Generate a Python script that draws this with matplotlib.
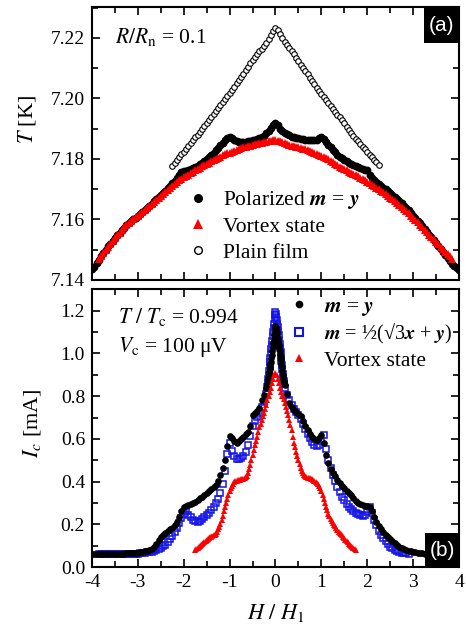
import numpy as np
import matplotlib
matplotlib.use('Agg')
import matplotlib.pyplot as plt
from matplotlib.lines import Line2D
from matplotlib.patches import Rectangle

plt.rcParams['font.family'] = 'Liberation Serif'
plt.rcParams['mathtext.fontset'] = 'stix'
plt.rcParams['axes.unicode_minus'] = False

# ---------------- panel (a): T(H) at R/Rn = 0.1 ----------------
# polarized m = y, H from -4 to 4 step 0.05
T_pol = [
    7.1435, 7.1444, 7.1456, 7.1466, 7.1478, 7.1490, 7.1500, 7.1511, 7.1520, 7.1530,
    7.1538, 7.1547, 7.1555, 7.1565, 7.1572, 7.1581, 7.1588, 7.1594, 7.1600, 7.1606,
    7.1611, 7.1618, 7.1624, 7.1631, 7.1637, 7.1645, 7.1652, 7.1661, 7.1668, 7.1674,
    7.1681, 7.1688, 7.1695, 7.1704, 7.1712, 7.1719, 7.1728, 7.1738, 7.1748, 7.1758,
    7.1760, 7.1761, 7.1763, 7.1766, 7.1770, 7.1773, 7.1778, 7.1783, 7.1788, 7.1794,
    7.1800, 7.1806, 7.1812, 7.1820, 7.1828, 7.1836, 7.1845, 7.1854, 7.1862, 7.1869,
    7.1874, 7.1870, 7.1863, 7.1858, 7.1856, 7.1856, 7.1857, 7.1856, 7.1859, 7.1860,
    7.1862, 7.1864, 7.1866, 7.1868, 7.1872, 7.1877, 7.1885, 7.1893, 7.1902, 7.1912,
    7.1920,
    7.1912, 7.1900, 7.1892, 7.1886, 7.1882, 7.1879, 7.1874, 7.1871, 7.1869, 7.1868,
    7.1866, 7.1866, 7.1864, 7.1862, 7.1862, 7.1861, 7.1862, 7.1864, 7.1869, 7.1874,
    7.1866, 7.1856, 7.1846, 7.1838, 7.1830, 7.1822, 7.1814, 7.1808, 7.1802, 7.1797,
    7.1792, 7.1787, 7.1783, 7.1779, 7.1775, 7.1772, 7.1769, 7.1767, 7.1765, 7.1762,
    7.1748, 7.1738, 7.1730, 7.1723, 7.1716, 7.1710, 7.1704, 7.1699, 7.1694, 7.1687,
    7.1680, 7.1674, 7.1667, 7.1660, 7.1653, 7.1646, 7.1638, 7.1630, 7.1622, 7.1613,
    7.1605, 7.1596, 7.1587, 7.1578, 7.1569, 7.1560, 7.1550, 7.1541, 7.1531, 7.1521,
    7.1511, 7.1501, 7.1492, 7.1482, 7.1472, 7.1463, 7.1454, 7.1446, 7.1439, 7.1432,
]
# vortex state, H from -3.85 to 3.85 step 0.05
T_vort = [
    7.1470, 7.1479, 7.1489, 7.1500, 7.1510, 7.1520, 7.1529, 7.1538, 7.1547, 7.1556,
    7.1565, 7.1574, 7.1582, 7.1589, 7.1595, 7.1601, 7.1607, 7.1612, 7.1619, 7.1625,
    7.1632, 7.1638, 7.1645, 7.1652, 7.1659, 7.1665, 7.1671, 7.1677, 7.1683, 7.1690,
    7.1697, 7.1703, 7.1709, 7.1716, 7.1723, 7.1730, 7.1735, 7.1740, 7.1744, 7.1748,
    7.1753, 7.1757, 7.1762, 7.1766, 7.1771, 7.1776, 7.1780, 7.1784, 7.1788, 7.1792,
    7.1796, 7.1800, 7.1804, 7.1808, 7.1812, 7.1815, 7.1818, 7.1821, 7.1824, 7.1827,
    7.1830, 7.1833, 7.1836, 7.1838, 7.1840, 7.1842, 7.1844, 7.1846, 7.1848, 7.1850,
    7.1852, 7.1853, 7.1855, 7.1857, 7.1858, 7.1860, 7.1861,
    7.1862,
    7.1860, 7.1858, 7.1855, 7.1852, 7.1849, 7.1846, 7.1844, 7.1842, 7.1840, 7.1838,
    7.1836, 7.1834, 7.1832, 7.1829, 7.1826, 7.1823, 7.1820, 7.1817, 7.1814, 7.1811,
    7.1807, 7.1803, 7.1799, 7.1794, 7.1789, 7.1784, 7.1779, 7.1774, 7.1770, 7.1766,
    7.1762, 7.1758, 7.1754, 7.1750, 7.1746, 7.1742, 7.1738, 7.1734, 7.1730, 7.1725,
    7.1720, 7.1715, 7.1710, 7.1705, 7.1700, 7.1695, 7.1690, 7.1684, 7.1678, 7.1672,
    7.1667, 7.1661, 7.1655, 7.1649, 7.1642, 7.1635, 7.1628, 7.1620, 7.1613, 7.1606,
    7.1598, 7.1590, 7.1582, 7.1574, 7.1566, 7.1558, 7.1550, 7.1542, 7.1534, 7.1526,
    7.1518, 7.1510, 7.1502, 7.1494, 7.1486, 7.1478, 7.1470,
]
# plain film, H from -2.25 to 2.25 step 0.05
T_plain = [
    7.1778, 7.1788, 7.1796, 7.1806, 7.1815, 7.1824, 7.1834, 7.1842, 7.1853, 7.1862,
    7.1871, 7.1880, 7.1889, 7.1898, 7.1908, 7.1918, 7.1928, 7.1938, 7.1948, 7.1958,
    7.1968, 7.1978, 7.1988, 7.1997, 7.2008, 7.2018, 7.2028, 7.2038, 7.2050, 7.2060,
    7.2072, 7.2082, 7.2094, 7.2104, 7.2116, 7.2126, 7.2136, 7.2146, 7.2156, 7.2164,
    7.2174, 7.2184, 7.2196, 7.2210, 7.2224,
    7.2234,
    7.2226, 7.2214, 7.2200, 7.2188, 7.2176, 7.2166, 7.2156, 7.2146, 7.2135, 7.2124,
    7.2112, 7.2101, 7.2090, 7.2079, 7.2068, 7.2058, 7.2047, 7.2036, 7.2025, 7.2015,
    7.2005, 7.1995, 7.1985, 7.1976, 7.1966, 7.1956, 7.1946, 7.1937, 7.1927, 7.1918,
    7.1907, 7.1897, 7.1886, 7.1877, 7.1867, 7.1858, 7.1849, 7.1840, 7.1832, 7.1823,
    7.1814, 7.1806, 7.1797, 7.1789, 7.1781,
]

# ---------------- panel (b): Ic(H) ----------------
# m = y : three pieces (-4..-0.25 step .05, -0.2..0.2 step .01, 0.25..4 step .05)
Ic_my_left = [
    0.062, 0.062, 0.061, 0.062, 0.062, 0.061, 0.062, 0.062, 0.062, 0.062,
    0.063, 0.062, 0.063, 0.063, 0.063, 0.064, 0.064, 0.064, 0.065, 0.066,
    0.067, 0.069, 0.071, 0.073, 0.076, 0.080, 0.085, 0.095, 0.108, 0.125,
    0.142, 0.152, 0.160, 0.168, 0.176, 0.185, 0.196, 0.212, 0.235, 0.262,
    0.282, 0.286, 0.290, 0.294, 0.299, 0.306, 0.314, 0.322, 0.330, 0.338,
    0.346, 0.355, 0.365, 0.375, 0.386, 0.405, 0.430, 0.462, 0.500, 0.565,
    0.615, 0.602, 0.588, 0.580, 0.588, 0.598, 0.610, 0.622, 0.632, 0.660,
    0.712, 0.722, 0.730, 0.745, 0.780, 0.805,
]
Ic_my_mid = [
    0.840, 0.848, 0.858, 0.870, 0.884, 0.900, 0.912, 0.925, 0.938, 0.950,
    0.962, 0.978, 0.995, 1.012, 1.030, 1.048, 1.065, 1.085, 1.105, 1.120,
    1.130,
    1.125, 1.115, 1.100, 1.085, 1.070, 1.055, 1.040, 1.025, 1.010, 0.995,
    0.982, 0.968, 0.952, 0.935, 0.918, 0.900, 0.885, 0.872, 0.862, 0.852,
]
Ic_my_right = [
    0.810, 0.770, 0.748, 0.736, 0.726, 0.716, 0.706, 0.685, 0.660, 0.640,
    0.625, 0.610, 0.600, 0.596, 0.602, 0.618, 0.580, 0.525, 0.485, 0.458,
    0.440, 0.425, 0.408, 0.394, 0.380, 0.368, 0.357, 0.347, 0.336, 0.323,
    0.310, 0.300, 0.295, 0.290, 0.287, 0.285, 0.280, 0.262, 0.235, 0.210,
    0.194, 0.180, 0.165, 0.150, 0.140, 0.130, 0.120, 0.111, 0.103, 0.096,
    0.090, 0.085, 0.080, 0.076, 0.073, 0.070, 0.068, 0.066, 0.065, 0.064,
    0.063, 0.063, 0.062, 0.062, 0.062, 0.062, 0.062, 0.061, 0.062, 0.062,
    0.062, 0.061, 0.062, 0.062, 0.062, 0.062,
]
# m = 1/2(sqrt3 x + y) : (-3.85..-0.25 step .05, -0.2..0.2 step .01, 0.25..2.9 step .05)
Ic_m3_left = [
    0.062, 0.062, 0.061, 0.062, 0.062, 0.062, 0.062, 0.062, 0.062, 0.062,
    0.062, 0.062, 0.062, 0.062, 0.062, 0.063, 0.063, 0.063, 0.064, 0.064,
    0.066, 0.068, 0.070, 0.072, 0.075, 0.078, 0.084, 0.090, 0.097, 0.105,
    0.116, 0.130, 0.147, 0.165, 0.185, 0.205, 0.228, 0.248, 0.260, 0.245,
    0.232, 0.222, 0.215, 0.212, 0.217, 0.225, 0.235, 0.245, 0.255, 0.266,
    0.282, 0.300, 0.320, 0.345, 0.390, 0.450, 0.530, 0.580, 0.545, 0.518,
    0.508, 0.508, 0.512, 0.520, 0.540, 0.570, 0.615, 0.660, 0.685, 0.702,
    0.722, 0.748, 0.775,
]
Ic_m3_mid = [
    0.810, 0.825, 0.842, 0.860, 0.880, 0.900, 0.920, 0.940, 0.960, 0.980,
    1.000, 1.020, 1.040, 1.060, 1.080, 1.100, 1.120, 1.140, 1.160, 1.180,
    1.195,
    1.185, 1.170, 1.155, 1.140, 1.125, 1.105, 1.085, 1.065, 1.045, 1.025,
    1.005, 0.985, 0.965, 0.945, 0.925, 0.905, 0.887, 0.870, 0.855, 0.840,
]
Ic_m3_right = [
    0.805, 0.780, 0.760, 0.742, 0.725, 0.710, 0.692, 0.670, 0.645, 0.622,
    0.602, 0.585, 0.572, 0.565, 0.570, 0.590, 0.618, 0.555, 0.500, 0.462,
    0.430, 0.402, 0.375, 0.352, 0.330, 0.312, 0.296, 0.282, 0.270, 0.260,
    0.252, 0.246, 0.242, 0.240, 0.245, 0.258, 0.280, 0.252, 0.222, 0.195,
    0.170, 0.150, 0.134, 0.120, 0.107, 0.096, 0.087, 0.079, 0.074, 0.070,
    0.067, 0.065, 0.064, 0.063,
]
# vortex state, H from -1.75 to 1.75 step 0.025
Ic_vort = [
    0.082, 0.086, 0.090, 0.095, 0.100, 0.105, 0.110, 0.114, 0.118, 0.122,
    0.126, 0.131, 0.135, 0.139, 0.142, 0.145, 0.148, 0.151, 0.156, 0.165,
    0.176, 0.188, 0.202, 0.220, 0.240, 0.260, 0.280, 0.300, 0.320, 0.338,
    0.355, 0.368, 0.380, 0.390, 0.398, 0.402, 0.405, 0.407, 0.408, 0.409,
    0.410, 0.411, 0.413, 0.416, 0.420, 0.428, 0.440, 0.458, 0.480, 0.502,
    0.525, 0.548, 0.570, 0.590, 0.610, 0.632, 0.655, 0.672, 0.690, 0.705,
    0.720, 0.740, 0.760, 0.780, 0.800, 0.820, 0.840, 0.860, 0.880, 0.898,
    0.910,
    0.898, 0.880, 0.860, 0.840, 0.820, 0.800, 0.785, 0.770, 0.750, 0.730,
    0.710, 0.690, 0.665, 0.640, 0.610, 0.580, 0.560, 0.540, 0.520, 0.500,
    0.482, 0.465, 0.450, 0.440, 0.432, 0.425, 0.421, 0.418, 0.416, 0.415,
    0.412, 0.410, 0.408, 0.405, 0.400, 0.395, 0.388, 0.380, 0.368, 0.355,
    0.338, 0.320, 0.300, 0.280, 0.265, 0.250, 0.237, 0.225, 0.215, 0.205,
    0.197, 0.190, 0.181, 0.172, 0.166, 0.160, 0.154, 0.148, 0.141, 0.135,
    0.128, 0.122, 0.116, 0.110, 0.105, 0.100, 0.095, 0.090, 0.085, 0.080,
]

# field grids
H_pol = np.linspace(-4, 4, len(T_pol))
H_vort_a = np.linspace(-3.85, 3.85, len(T_vort))
H_plain = np.linspace(-2.25, 2.25, len(T_plain))

H_my = np.concatenate([np.linspace(-4, -0.25, len(Ic_my_left)),
                       np.linspace(-0.2, 0.2, len(Ic_my_mid)),
                       np.linspace(0.25, 4, len(Ic_my_right))])
Ic_my = Ic_my_left + Ic_my_mid + Ic_my_right
H_m3 = np.concatenate([np.linspace(-3.85, -0.25, len(Ic_m3_left)),
                       np.linspace(-0.2, 0.2, len(Ic_m3_mid)),
                       np.linspace(0.25, 2.9, len(Ic_m3_right))])
Ic_m3 = Ic_m3_left + Ic_m3_mid + Ic_m3_right
H_vort_b = np.linspace(-1.75, 1.75, len(Ic_vort))

RED = '#ff0000'
BLUE = '#1414e6'

fig = plt.figure(figsize=(4.66, 6.31), dpi=100)
ax1 = fig.add_axes([0.1974, 0.5563, 0.7876, 0.4326])
ax2 = fig.add_axes([0.1974, 0.1014, 0.7876, 0.4406])

# ---- panel (a)
ax1.plot(H_plain, T_plain, 'o', ms=4.0, mfc='white', mec='black', mew=0.8, ls='none')
ax1.plot(H_pol, T_pol, 'o', ms=5.6, color='black', mew=0, ls='none')
ax1.plot(H_vort_a, T_vort, '^', ms=5.6, color=RED, mew=0, ls='none')

ax1.set_xlim(-4, 4)
ax1.set_ylim(7.14, 7.2302)
ax1.set_yticks([7.14, 7.16, 7.18, 7.20, 7.22])
ax1.set_yticks(np.arange(7.15, 7.23, 0.02), minor=True)
ax1.set_xticks(np.arange(-4, 5, 1))
ax1.set_xticks(np.arange(-3.5, 4, 1), minor=True)
ax1.tick_params(labelbottom=False)
ax1.set_ylabel(r'$T$ [K]', fontsize=16)
ax1.yaxis.set_label_coords(-0.147, 0.59)

ax1.text(0.063, 0.868, r'$R/R_{\rm n}$ = 0.1', transform=ax1.transAxes,
         fontsize=15.5, va='baseline', ha='left')

h_a = [Line2D([], [], marker='o', ls='none', color='black', ms=6.5, mew=0),
       Line2D([], [], marker='^', ls='none', color=RED, ms=6.5, mew=0),
       Line2D([], [], marker='o', ls='none', mfc='white', mec='black', ms=5.5, mew=1.0)]
lab_a = [r'Polarized $\mathbfit{m}$ = $\mathbfit{y}$', 'Vortex state', 'Plain film']
ax1.legend(h_a, lab_a, loc='upper left', bbox_to_anchor=(0.259, 0.333),
           frameon=False, fontsize=15.5, handlelength=1.0, handletextpad=0.66,
           borderpad=0, borderaxespad=0, labelspacing=0.27)

ax1.add_patch(Rectangle((0.905, 0.868), 0.095, 0.132, transform=ax1.transAxes,
                        facecolor='black', edgecolor='none', zorder=5))
ax1.text(0.9525, 0.934, '(a)', transform=ax1.transAxes, color='white',
         fontsize=15, family='Liberation Sans', ha='center', va='center', zorder=6)

# ---- panel (b)
ax2.plot(H_m3, Ic_m3, 's', ms=4.3, mfc='none', mec=BLUE, mew=1.1, ls='none')
ax2.plot(H_my, Ic_my, 'o', ms=4.8, color='black', mew=0, ls='none')
ax2.plot(H_vort_b, Ic_vort, '^', ms=4.8, color=RED, mew=0, ls='none')

ax2.set_xlim(-4, 4)
ax2.set_ylim(0, 1.302)
ax2.set_yticks(np.arange(0, 1.21, 0.2))
ax2.set_yticklabels(['0.0', '0.2', '0.4', '0.6', '0.8', '1.0', '1.2'])
ax2.set_yticks(np.arange(0.1, 1.3, 0.2), minor=True)
ax2.set_xticks(np.arange(-4, 5, 1))
ax2.set_xticks(np.arange(-3.5, 4, 1), minor=True)
ax2.set_ylabel(r'$I_c$ [mA]', fontsize=16)
ax2.yaxis.set_label_coords(-0.134, 0.518)
ax2.set_xlabel(r'$H\ /\ H_1$', fontsize=16, labelpad=8)

ax2.text(0.071, 0.879, r'$T\ /\ T_{\rm c}$ = 0.994', transform=ax2.transAxes,
         fontsize=15.5, va='baseline', ha='left')
ax2.text(0.071, 0.774, r'$V_{\rm c}$ = 100 μV', transform=ax2.transAxes,
         fontsize=15.5, va='baseline', ha='left')

h_b = [Line2D([], [], marker='o', ls='none', color='black', ms=5.5, mew=0),
       Line2D([], [], marker='s', ls='none', mfc='none', mec=BLUE, ms=6, mew=1.5),
       Line2D([], [], marker='^', ls='none', color=RED, ms=6, mew=0)]
lab_b = [r'$\mathbfit{m}$ = $\mathbfit{y}$',
         r'$\mathbfit{m}$ = ½(√3$\mathbfit{x}$ + $\mathbfit{y}$)',
         'Vortex state']
leg_b = ax2.legend(h_b, lab_b, loc='upper left', bbox_to_anchor=(0.534, 0.972),
                   frameon=False, fontsize=15.5, handlelength=1.0, handletextpad=0.66,
                   borderpad=0, borderaxespad=0, labelspacing=0.2)
leg_b.get_texts()[1].set_fontsize(14.5)

ax2.add_patch(Rectangle((0.907, 0.0), 0.093, 0.122, transform=ax2.transAxes,
                        facecolor='black', edgecolor='none', zorder=5))
ax2.text(0.9535, 0.061, '(b)', transform=ax2.transAxes, color='white',
         fontsize=15, family='Liberation Sans', ha='center', va='center', zorder=6)

for ax in (ax1, ax2):
    ax.tick_params(which='both', direction='in', top=True, right=True,
                   width=1.2, labelsize=14, pad=5)
    ax.tick_params(which='major', length=6)
    ax.tick_params(which='minor', length=4)
    for sp in ax.spines.values():
        sp.set_linewidth(1.5)

fig.savefig('out.png', dpi=100)
